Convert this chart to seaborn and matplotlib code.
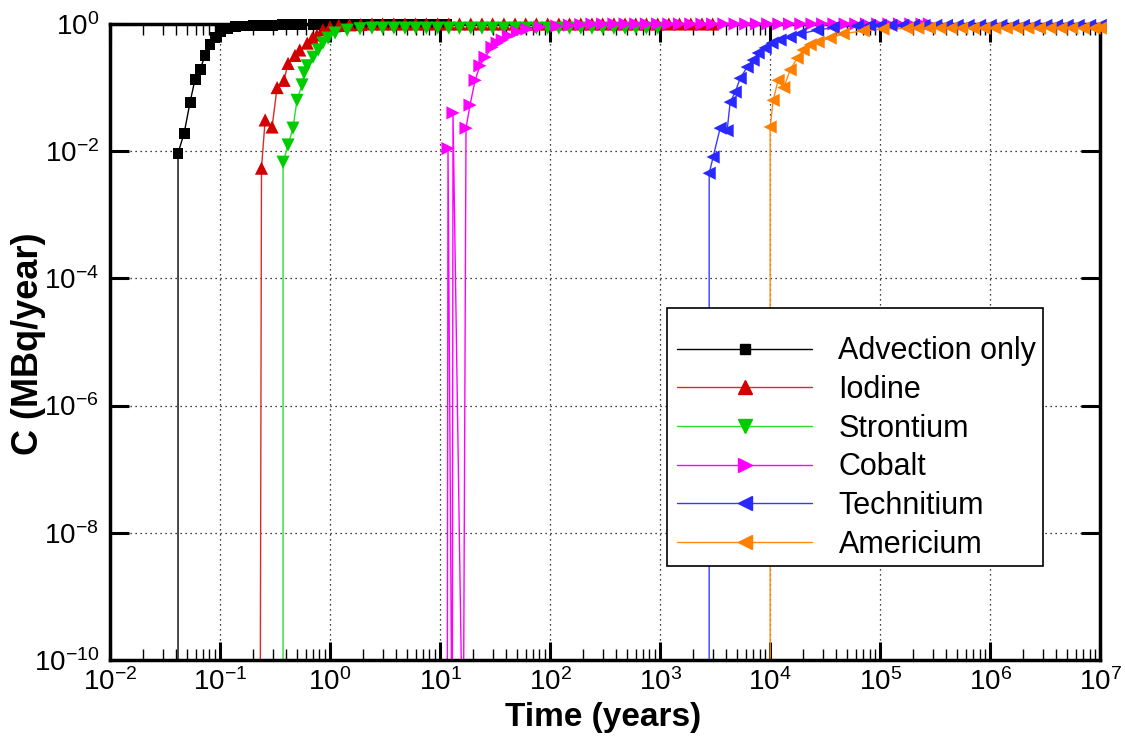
import numpy as np
import pandas as pd
import matplotlib
matplotlib.use("Agg")
import matplotlib.pyplot as plt
import matplotlib.ticker as mticker
from matplotlib.lines import Line2D
from matplotlib.patches import Rectangle
import seaborn as sns

# Datos (tiempo en anos, C en MBq/ano)
# 1e-12 = punto de arranque sin marcador (linea vertical hasta el fondo)
t_adv = [0.0415, 0.0415, 0.0471, 0.0534, 0.0593, 0.0658, 0.073, 0.081, 0.090, 0.100,
         0.116, 0.137, 0.17, 0.2, 0.25, 0.3, 0.37, 0.45, 0.55, 0.7, 0.85, 1.05, 1.3,
         1.6, 2.0, 2.5, 3.1, 3.9, 4.8, 6.0, 7.5, 9.3, 11.5]
c_adv = [1e-12, 0.0093, 0.019, 0.059, 0.136, 0.19, 0.32, 0.47, 0.62, 0.75,
         0.84, 0.90, 0.93, 0.95, 0.96, 0.96, 0.97, 0.97, 0.97, 0.98, 0.98, 0.98, 0.98,
         0.98, 0.98, 0.98, 0.98, 0.98, 0.98, 0.98, 0.98, 0.98, 0.98]

t_iod = [0.231, 0.238, 0.257, 0.297, 0.33, 0.382, 0.415, 0.48, 0.53, 0.62, 0.69, 0.76,
         0.86, 1.0, 1.2, 1.5, 1.9, 2.4, 3.0, 3.8, 4.8, 6.0, 7.5, 9.5, 12, 15, 19, 24,
         30, 38, 48, 60, 75, 95, 120, 150, 190, 240, 300, 380, 480, 600, 750, 950,
         1200, 1500, 1900, 2400, 3000]
c_iod = [1e-12, 0.0054, 0.031, 0.024, 0.10, 0.13, 0.24, 0.32, 0.39, 0.50, 0.60, 0.67,
         0.81, 0.90, 0.95, 0.97, 0.98, 1.0, 1.0, 1.0, 1.0, 1.0, 1.0, 1.0, 1.0, 1.0, 1.0, 1.0,
         1.0, 1.0, 1.0, 1.0, 1.0, 1.0, 1.0, 1.0, 1.0, 1.0, 1.0, 1.0, 1.0, 1.0, 1.0, 1.0,
         1.0, 1.0, 1.0, 1.0, 1.0]

t_sr = [0.374, 0.374, 0.415, 0.46, 0.50, 0.556, 0.58, 0.62, 0.70, 0.78, 0.86, 0.96,
        1.11, 1.43, 1.87, 2.4, 3.0, 3.8, 4.8, 6.0, 7.5, 9.5, 12, 15, 19, 24, 30, 38,
        48, 60, 75, 95, 120, 150, 190, 240, 300, 380, 480, 600, 750, 950]
c_sr = [1e-12, 0.0067, 0.0125, 0.023, 0.063, 0.11, 0.17, 0.22, 0.30, 0.39, 0.50, 0.60,
        0.72, 0.80, 0.84, 0.86, 0.86, 0.86, 0.86, 0.86, 0.86, 0.86, 0.86, 0.86, 0.86, 0.86, 0.86, 0.86,
        0.86, 0.86, 0.86, 0.86, 0.86, 0.86, 0.86, 0.86, 0.86, 0.86, 0.86, 0.86, 0.86, 0.86]

t_co = [11.6, 11.8, 12.9, 13.1, 16.2, 17.2, 18.7, 20.8, 23.0, 25.6, 29.6, 33.0, 36.7,
        41.8, 50.5, 61.4, 81, 115, 150, 190, 240, 300, 380, 480, 600, 750, 950, 1200,
        1500, 1900, 2400, 3000, 3800, 4800, 6000, 7500, 9500, 12000, 15000, 19000,
        24000, 30000, 38000, 48000, 60000, 75000, 95000, 120000, 150000, 190000,
        240000, 280000]
c_co = [1e-12, 0.011, 1e-12, 0.04, 1e-12, 0.023, 0.053, 0.13, 0.22, 0.30, 0.43, 0.50, 0.56,
        0.65, 0.75, 0.83, 0.90, 0.93, 0.96, 0.98, 1.0, 1.0, 1.0, 1.0, 1.0, 1.0, 1.0, 1.0,
        1.0, 1.0, 1.0, 1.0, 1.0, 1.0, 1.0, 1.0, 1.0, 1.0, 1.0, 1.0,
        1.0, 1.0, 1.0, 1.0, 1.0, 1.0, 1.0, 1.0, 1.0, 1.0,
        1.0, 1.0]

t_tc = [2790, 2790, 3030, 3510, 4060, 4330, 4810, 5340, 6180, 7000, 7780, 9010, 10400,
        12300, 15200, 18700, 26700, 37400, 61800, 80000, 1.0e5, 1.25e5, 1.6e5, 2.0e5,
        2.5e5, 3.2e5, 4.0e5, 5.0e5, 6.3e5, 8.0e5, 1.0e6, 1.25e6, 1.6e6, 2.0e6, 2.5e6,
        3.2e6, 4.0e6, 5.0e6, 6.3e6, 8.0e6, 1.0e7]
c_tc = [1e-12, 0.0045, 0.0081, 0.023, 0.021, 0.059, 0.085, 0.14, 0.21, 0.27, 0.35, 0.42, 0.50,
        0.56, 0.62, 0.70, 0.80, 0.88, 0.93, 0.95, 0.95, 0.95, 0.95, 0.95,
        0.95, 0.95, 0.95, 0.95, 0.95, 0.95, 0.95, 0.95, 0.95, 0.95, 0.95,
        0.95, 0.95, 0.95, 0.95, 0.95, 0.95]

t_am = [10000, 10000, 10640, 11800, 13300, 15200, 17600, 19950, 23100, 27300, 35100,
        46100, 70000, 106000, 176000, 2.2e5, 2.8e5, 3.5e5, 4.4e5, 5.5e5, 7.0e5, 8.8e5,
        1.1e6, 1.4e6, 1.75e6, 2.2e6, 2.8e6, 3.5e6, 4.4e6, 5.5e6, 7.0e6, 8.8e6, 1.0e7]
c_am = [1e-12, 0.024, 0.063, 0.13, 0.10, 0.19, 0.29, 0.39, 0.47, 0.52, 0.60,
        0.70, 0.78, 0.83, 0.85, 0.86, 0.86, 0.86, 0.86, 0.86, 0.86, 0.86,
        0.86, 0.86, 0.86, 0.86, 0.86, 0.86, 0.86, 0.86, 0.86, 0.86, 0.86]

nombres = ["Advection only", "Iodine", "Strontium", "Cobalt", "Technitium", "Americium"]
series_t = [t_adv, t_iod, t_sr, t_co, t_tc, t_am]
series_c = [c_adv, c_iod, c_sr, c_co, c_tc, c_am]

y_ticks = [1e-10, 1e-8, 1e-6, 1e-4, 1e-2, 1e0]

# Estilo de cada serie
cores_linha = ["#000000", "#e02828", "#28e028", "#ff00ff", "#3a3aff", "#ff8c10"]
cores_marca = ["#000000", "#d40000", "#00cc00", "#ff00ff", "#2828ff", "#ff8000"]
marcadores = ["s", "^", "v", ">", "<", "<"]
tamanhos = [62, 90, 90, 90, 90, 90]

# Monta o dataframe longo
df = pd.concat(
    [pd.DataFrame({"t": t, "c": c, "serie": n}) for t, c, n in zip(series_t, series_c, nombres)],
    ignore_index=True,
)
df_marc = df[df["c"] > 1e-10]

sns.set_style("white")
plt.rcParams["font.family"] = ["Liberation Sans", "DejaVu Sans"]
plt.rcParams["mathtext.default"] = "regular"
plt.rcParams["axes.unicode_minus"] = False
plt.rcParams["text.color"] = "black"
plt.rcParams["axes.labelcolor"] = "black"
plt.rcParams["xtick.color"] = "black"
plt.rcParams["ytick.color"] = "black"

fig, ax = plt.subplots(figsize=(11.25, 7.42), dpi=100)
fig.subplots_adjust(left=0.0978, right=0.978, bottom=0.1105, top=0.9677)

sns.lineplot(data=df, x="t", y="c", hue="serie", hue_order=nombres,
             palette=dict(zip(nombres, cores_linha)), estimator=None, sort=False,
             linewidth=1.0, legend=False, ax=ax, zorder=2)
ax.set_xscale("log")
ax.set_yscale("log")
sns.scatterplot(data=df_marc, x="t", y="c", hue="serie", hue_order=nombres,
                palette=dict(zip(nombres, cores_marca)),
                style="serie", markers=dict(zip(nombres, marcadores)),
                size="serie", sizes=dict(zip(nombres, tamanhos)),
                linewidth=0, clip_on=False, legend=False, ax=ax, zorder=3)

ax.set_xlim(1e-2, 1e7)
ax.set_ylim(1e-10, 1)

# Eixos e ticks
ax.xaxis.set_major_locator(mticker.LogLocator(base=10, numticks=20))
ax.xaxis.set_minor_locator(mticker.LogLocator(base=10, subs=(2, 3, 4, 5, 6, 7, 8, 9), numticks=20))
ax.xaxis.set_minor_formatter(mticker.NullFormatter())
ax.yaxis.set_major_locator(mticker.FixedLocator(y_ticks))
ax.yaxis.set_major_formatter(mticker.LogFormatterSciNotation())
ax.yaxis.set_minor_locator(mticker.NullLocator())

ax.tick_params(which="major", direction="in", length=13, width=2.2,
               bottom=True, top=True, left=True, right=True, labelsize=20, pad=6)
ax.tick_params(axis="y", which="major", length=14, pad=8)
ax.tick_params(which="minor", direction="in", length=8, width=1,
               bottom=True, top=True, left=False, right=False)
for s in ax.spines.values():
    s.set_linewidth(2.5)
    s.set_color("black")

ax.grid(True, which="major", color="black", linestyle=(0, (1, 3)), linewidth=0.9)
ax.set_axisbelow(True)

ax.set_xlabel("Time (years)", fontsize=24, fontweight="bold", va="top")
ax.xaxis.set_label_coords(0.498, -0.066)
ax.set_ylabel("C (MBq/year)", fontsize=26, fontweight="bold")
ax.yaxis.set_label_coords(-0.065, 0.498)

# Legenda: caixa desenhada a parte, entradas sem moldura
caixa = Rectangle((0.5626, 0.1478), 0.3798, 0.4057, transform=ax.transAxes,
                  facecolor="white", edgecolor="black", linewidth=1.2, zorder=5)
ax.add_patch(caixa)
handles = [Line2D([], [], color=cl, lw=1.0, marker=m, markersize=(9.5 if m != "s" else 7.8),
                  markerfacecolor=cm, markeredgecolor=cm)
           for cl, cm, m in zip(cores_linha, cores_marca, marcadores)]
leg = ax.legend(handles, nombres, loc="upper left", bbox_to_anchor=(0.5727, 0.509),
                borderaxespad=0, borderpad=0, fontsize=22, numpoints=1, handlelength=4.43,
                handletextpad=0.85, labelspacing=0.285, frameon=False)
leg.set_zorder(6)

fig.savefig("out.png", dpi=100)
